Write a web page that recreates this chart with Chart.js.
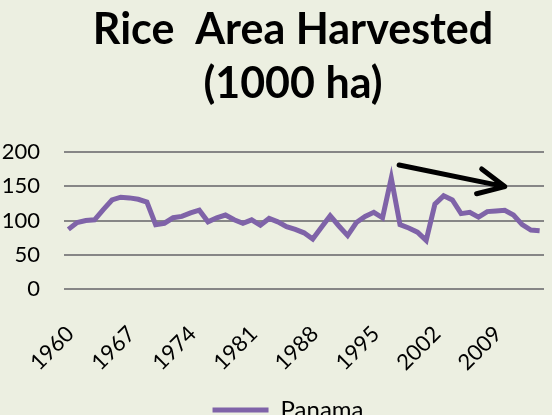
<!DOCTYPE html>
<html>
<head>
<meta charset="utf-8">
<script src="https://cdn.jsdelivr.net/npm/chart.js@4/dist/chart.umd.min.js"></script>
<style>
  html, body { margin: 0; padding: 0; background: #ecefe1; overflow: hidden; }
  #wrap { width: 552px; height: 432px; }
</style>
</head>
<body>
<div id="wrap"><canvas id="chart"></canvas></div>
<script>
const years = [
    1960, 1961, 1962, 1963, 1964, 1965, 1966, 1967, 1968, 1969,
    1970, 1971, 1972, 1973, 1974, 1975, 1976, 1977, 1978, 1979,
    1980, 1981, 1982, 1983, 1984, 1985, 1986, 1987, 1988, 1989,
    1990, 1991, 1992, 1993, 1994, 1995, 1996, 1997, 1998, 1999,
    2000, 2001, 2002, 2003, 2004, 2005, 2006, 2007, 2008, 2009,
    2010, 2011, 2012, 2013, 2014
];
const panama = [
    87, 97, 100, 101, 116, 130, 134, 133, 131, 127,
    94, 96, 104, 106, 111, 115, 98, 104, 108, 101,
    96, 101, 93, 103, 98, 91, 87, 82, 73, 90,
    107, 92, 78, 97, 106, 112, 104, 162, 94, 89,
    83, 71, 124, 136, 130, 110, 112, 105, 113, 114,
    115, 108, 94, 86, 85
];
const tickYears = [1960, 1967, 1974, 1981, 1988, 1995, 2002, 2009];
const yTicks = [0, 50, 100, 150, 200];
const titleLines = ["Rice  Area Harvested", "(1000 ha)"];

const lineColor = "#7f63a8";
const font = "Lato";

// title drawn by hand so it can sit off-centre like the original
const titlePlugin = {
    id: "chartTitle",
    afterLayout(chart) {
        // original legend sits a little right of the canvas centre
        chart.legend.left += 16;
        chart.legend.right += 16;
    },
    afterDraw(chart) {
        const ctx = chart.ctx;
        ctx.save();
        ctx.font = "bold 43px " + font;
        ctx.fillStyle = "#000";
        ctx.textAlign = "center";
        ctx.textBaseline = "alphabetic";
        ctx.fillText(titleLines[0], 293, 44);
        ctx.fillText(titleLines[1], 293, 98);
        ctx.restore();
    }
};

// black trend arrow, anchored on the data scales (index, value)
const arrowFrom = [37.9, 181];
const arrowTo = [50.0, 149.5];
const arrowPlugin = {
    id: "trendArrow",
    afterDatasetsDraw(chart) {
        const { ctx, scales } = chart;
        const x0 = scales.x.getPixelForValue(arrowFrom[0]);
        const y0 = scales.y.getPixelForValue(arrowFrom[1]);
        const x1 = scales.x.getPixelForValue(arrowTo[0]);
        const y1 = scales.y.getPixelForValue(arrowTo[1]);
        const angle = Math.atan2(y1 - y0, x1 - x0);
        const head = 29;
        const spread = 0.45;
        ctx.save();
        ctx.strokeStyle = "#000";
        ctx.lineWidth = 5;
        ctx.lineCap = "round";
        ctx.lineJoin = "round";
        ctx.beginPath();
        ctx.moveTo(x0, y0);
        ctx.lineTo(x1, y1);
        ctx.moveTo(x1 - head * Math.cos(angle - spread), y1 - head * Math.sin(angle - spread));
        ctx.lineTo(x1, y1);
        ctx.lineTo(x1 - head * Math.cos(angle + spread), y1 - head * Math.sin(angle + spread));
        ctx.stroke();
        ctx.restore();
    }
};

new Chart(document.getElementById("chart"), {
    type: "line",
    data: {
        labels: years,
        datasets: [{
            label: "Panama",
            data: panama,
            borderColor: lineColor,
            backgroundColor: lineColor,
            borderWidth: 5,
            pointRadius: 0,
            tension: 0,
            fill: false,
        }],
    },
    options: {
        responsive: true,
        maintainAspectRatio: false,
        animation: false,
        layout: {
            padding: { top: 152, right: 8, left: 0, bottom: 0 },
        },
        plugins: {
            title: { display: false },
            tooltip: { enabled: false },
            legend: {
                position: "bottom",
                labels: {
                    usePointStyle: true,
                    pointStyle: "line",
                    pointStyleWidth: 56,
                    padding: 6,
                    color: "#000",
                    font: { family: font, size: 24 },
                },
            },
        },
        scales: {
            x: {
                offset: true,
                grid: { display: false, drawTicks: false },
                border: { display: false },
                ticks: {
                    autoSkip: false,
                    minRotation: 45,
                    maxRotation: 45,
                    labelOffset: 2,
                    padding: 32,
                    color: "#000",
                    font: { family: font, size: 22 },
                    callback: (value, index) => tickYears.includes(years[index]) ? String(years[index]) : "",
                },
                afterFit(scale) {
                    scale.height = 103;
                    scale.paddingLeft = 0;
                    scale.paddingRight = 0;
                },
            },
            y: {
                min: yTicks[0],
                max: yTicks[yTicks.length - 1],
                afterBuildTicks(scale) {
                    scale.ticks = yTicks.map(v => ({ value: v }));
                },
                grid: { color: "#868686", lineWidth: 2, drawTicks: false },
                border: { display: false },
                ticks: {
                    padding: 24,
                    color: "#000",
                    font: { family: font, size: 22 },
                },
                afterFit(scale) {
                    scale.width = 64;
                },
            },
        },
    },
    plugins: [titlePlugin, arrowPlugin],
});
</script>
</body>
</html>
